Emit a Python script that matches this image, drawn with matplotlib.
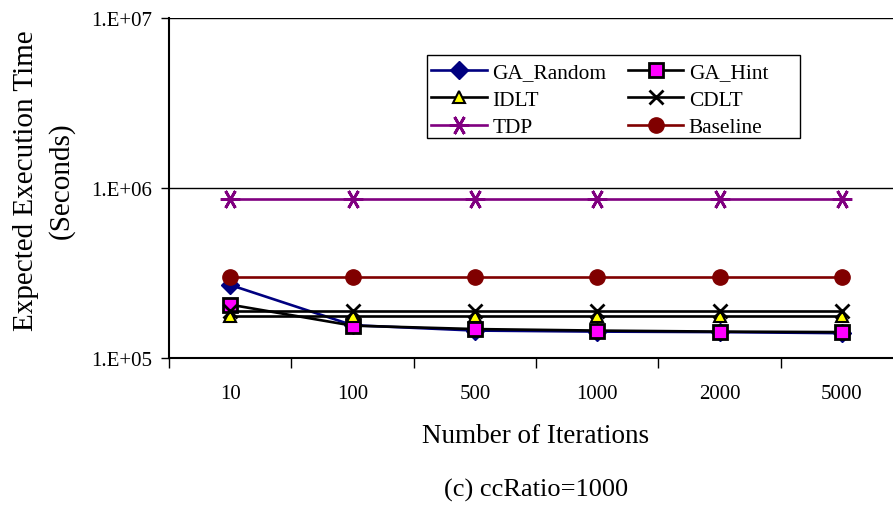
import numpy as np
import matplotlib
matplotlib.use("Agg")
import matplotlib.pyplot as plt
from matplotlib.patches import Rectangle
from matplotlib.ticker import FixedLocator, FuncFormatter, NullFormatter

plt.rcParams['font.family'] = ['Liberation Serif', 'DejaVu Serif']

# iterations (categories)
iterations = ['10', '100', '500', '1000', '2000', '5000']

# expected execution time (seconds)
ga_random = [2.69e5, 1.56e5, 1.45e5, 1.43e5, 1.42e5, 1.40e5]
ga_hint = [2.06e5, 1.55e5, 1.48e5, 1.45e5, 1.43e5, 1.42e5]
idlt = [1.77e5, 1.77e5, 1.77e5, 1.77e5, 1.77e5, 1.77e5]
cdlt = [1.90e5, 1.90e5, 1.90e5, 1.90e5, 1.90e5, 1.90e5]
tdp = [8.6e5, 8.6e5, 8.6e5, 8.6e5, 8.6e5, 8.6e5]
baseline = [3.0e5, 3.0e5, 3.0e5, 3.0e5, 3.0e5, 3.0e5]

fig = plt.figure(figsize=(8.93, 5.06), dpi=100)
# plot area runs a bit past the right edge, as in the original
ax = fig.add_axes([169/893, 1-359/506, 734/893, 340/506])

x = np.arange(len(iterations))
lw = 1.9
h_rand, = ax.plot(x, ga_random, color='#000080', lw=lw, marker='D', ms=9,
                  mfc='#000080', mec='#000080', label='GA_Random', zorder=3)
h_hint, = ax.plot(x, ga_hint, color='black', lw=lw, marker='s', ms=9.5,
                  mfc='#FF00FF', mec='black', mew=2, label='GA_Hint', zorder=3)
h_idlt, = ax.plot(x, idlt, color='black', lw=lw, marker='^', ms=9,
                  mfc='#FFFF00', mec='black', mew=1.5, label='IDLT', zorder=3)
h_cdlt, = ax.plot(x, cdlt, color='black', lw=lw, marker='x', ms=10,
                  mew=2, label='CDLT', zorder=3)
h_tdp, = ax.plot(x, tdp, color='#800080', lw=lw, marker=(6, 2, 90), ms=14,
                 mew=2, label='TDP', zorder=3)
h_base, = ax.plot(x, baseline, color='#800000', lw=lw, marker='o', ms=11,
                  mfc='#800000', mec='#800000', label='Baseline', zorder=3)

ax.set_yscale('log')
ax.set_ylim(1e5, 1e7)
ax.set_xlim(-0.5, len(iterations) - 0.5)

ax.yaxis.set_major_locator(FixedLocator([1e5, 1e6, 1e7]))
ax.yaxis.set_minor_locator(FixedLocator([]))
ax.yaxis.set_major_formatter(FuncFormatter(lambda v, p: '1.E+%02d' % int(round(np.log10(v)))))
ax.tick_params(axis='y', which='major', direction='out', length=6, width=1,
               labelsize=15, pad=6)

ax.set_xticks(x)
ax.set_xticklabels(iterations)
ax.set_xticks(np.arange(-0.5, len(iterations)), minor=True)
ax.xaxis.set_minor_formatter(NullFormatter())
ax.tick_params(axis='x', which='major', length=0, labelsize=15, pad=19)
ax.tick_params(axis='x', which='minor', direction='out', length=7, width=1)

ax.grid(axis='y', which='major', color='black', lw=1)
ax.set_axisbelow(True)
for s in ['top', 'right']:
    ax.spines[s].set_visible(False)
ax.spines['left'].set_linewidth(1.5)
ax.spines['bottom'].set_linewidth(1.5)

ax.set_xlabel('Number of Iterations', fontsize=19.5, labelpad=14)
ax.set_ylabel('Expected Execution Time\n(Seconds)', fontsize=21,
              labelpad=12, linespacing=1.4)
ax.yaxis.label.set_y(0.524)

# legend filled row by row, as in the original
handles = [h_rand, h_idlt, h_tdp, h_hint, h_cdlt, h_base]
ax.legend(handles=handles, ncol=2, loc='upper left',
          bbox_to_anchor=(0.3575, 0.87), borderaxespad=0, fontsize=15.4,
          frameon=False, handlelength=2.6, handletextpad=0.25,
          columnspacing=1.0, labelspacing=0.35, borderpad=0.0)
# wide legend frame
ax.add_patch(Rectangle((427/893, 1-139/506), 373/893, 83/506,
                       transform=fig.transFigure, fill=False,
                       edgecolor='black', lw=1.0, zorder=5))

fig.text(536/893, 1-490/506, '(c) ccRatio=1000', fontsize=19,
         ha='center', va='center')

fig.savefig('out.png', dpi=100)
